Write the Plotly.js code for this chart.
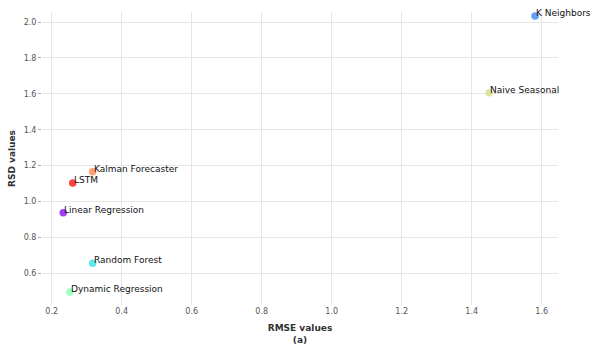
<!DOCTYPE html>
<html>
<head>
<meta charset="utf-8">
<script src="https://cdn.plot.ly/plotly-3.0.1.min.js"></script>
<style>html,body{margin:0;padding:0;background:#fff;}#chart{width:591px;height:349px;}</style>
</head>
<body>
<div id="chart"></div>
<script>
const models = ["Linear Regression", "K Neighbors", "Random Forest", "Dynamic Regression", "Naive Seasonal", "Kalman Forecaster", "LSTM"];
const rmse = [0.233, 1.581, 0.317, 0.252, 1.450, 0.317, 0.260];
const rsd = [0.938, 2.033, 0.656, 0.496, 1.606, 1.166, 1.103];
const xTicks = [0.2, 0.4, 0.6, 0.8, 1.0, 1.2, 1.4, 1.6];
const yTicks = [0.6, 0.8, 1.0, 1.2, 1.4, 1.6, 1.8, 2.0];

const colors = ["#8000ff", "#2b80f6", "#2bdddd", "#80ffb4", "#d4dd80", "#ff8042", "#ff0000"];

const trace = {
  x: rmse, y: rsd, mode: "markers", type: "scatter",
  marker: {color: colors, size: 7.5, opacity: 0.75, line: {width: 0}},
  hoverinfo: "none", showlegend: false
};

const annotations = models.map((m, i) => ({
  x: rmse[i], y: rsd[i], xref: "x", yref: "y", text: m, showarrow: false,
  xanchor: "left", yanchor: "middle", xshift: -1, yshift: 3,
  font: {family: "DejaVu Sans", size: 9, color: "#111"}
}));

const layout = {
  width: 591, height: 349,
  margin: {l: 42, r: 33, t: 12, b: 44},
  paper_bgcolor: "#fff", plot_bgcolor: "#fff",
  font: {family: "DejaVu Sans", color: "#555"},
  xaxis: {
    range: [0.1723, 1.6466], tickvals: xTicks, ticktext: xTicks.map(v => v.toFixed(1)),
    showgrid: true, gridcolor: "#e6e6e6", gridwidth: 1, zeroline: false, showline: false,
    ticks: "", tickfont: {size: 8, color: "#555"},
    title: {text: "<b>RMSE values</b><br><b>(a)</b>", font: {size: 9, color: "#333"}, standoff: 9}
  },
  yaxis: {
    range: [0.4234, 2.0557], tickvals: yTicks, ticktext: yTicks.map(v => v.toFixed(1)),
    showgrid: true, gridcolor: "#e6e6e6", gridwidth: 1, zeroline: false, showline: false,
    ticks: "outside", ticklen: 3, tickcolor: "#aaa", tickwidth: 1,
    tickfont: {size: 8, color: "#555"},
    title: {text: "<b>RSD values</b>", font: {size: 9, color: "#333"}, standoff: 6}
  },
  annotations: annotations
};

Plotly.newPlot("chart", [trace], layout, {displayModeBar: false, staticPlot: true});
</script>
</body>
</html>
